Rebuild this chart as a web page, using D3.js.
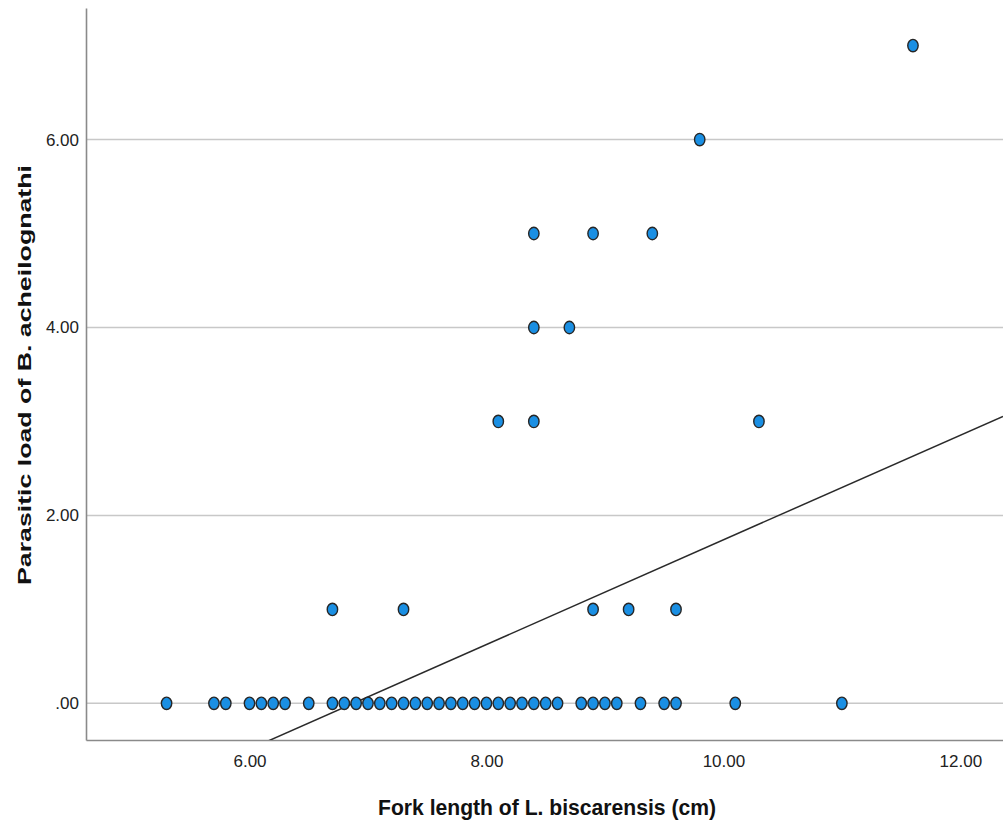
<!DOCTYPE html>
<html>
<head>
<meta charset="utf-8">
<script src="https://cdn.jsdelivr.net/npm/d3@7"></script>
<style>
  body { margin: 0; background: #fff; }
  svg { display: block; font-family: "Liberation Sans", Arial, sans-serif; }
</style>
</head>
<body>
<div class="canva"></div>
<script>
// fork length (cm) and parasite count for each fish
const forkLength = [
  5.3, 5.7, 5.8, 6.0, 6.1, 6.2, 6.3, 6.5, 6.7, 6.8, 6.9, 7.0, 7.1, 7.2, 7.3, 7.4,
  7.5, 7.6, 7.7, 7.8, 7.9, 8.0, 8.1, 8.2, 8.3, 8.4, 8.5, 8.6, 8.8, 8.9, 9.0, 9.1,
  9.3, 9.5, 9.6, 10.1, 11.0,
  6.7, 7.3, 8.9, 9.2, 9.6,
  8.1, 8.4, 10.3,
  8.4, 8.7,
  8.4, 8.9, 9.4,
  9.8,
  11.6
];
const parasiticLoad = [
  0, 0, 0, 0, 0, 0, 0, 0, 0, 0, 0, 0, 0, 0, 0, 0,
  0, 0, 0, 0, 0, 0, 0, 0, 0, 0, 0, 0, 0, 0, 0, 0,
  0, 0, 0, 0, 0,
  1, 1, 1, 1, 1,
  3, 3, 3,
  4, 4,
  5, 5, 5,
  6,
  7
];
const xTicks = [6, 8, 10, 12];
const yTicks = [0, 2, 4, 6];
// fitted line y = a + b*x
const fitIntercept = -3.83;
const fitSlope = 0.557;

const width = 1003, height = 827;
const margin = {top: 8, right: 0, bottom: 87, left: 86};

const svg = d3.select('.canva').append('svg')
    .attr('width', width)
    .attr('height', height);

const x = d3.scaleLinear().domain([4.62, 12.36]).range([margin.left, width - margin.right]);
const y = d3.scaleLinear().domain([-0.39, 7.4]).range([height - margin.bottom, margin.top]);

const fmt = v => v === 0 ? '.00' : d3.format('.2f')(v);

// grid lines
svg.append('g')
    .selectAll('line')
    .data(yTicks)
    .join('line')
    .attr('x1', margin.left)
    .attr('x2', width - margin.right)
    .attr('y1', d => y(d))
    .attr('y2', d => y(d))
    .attr('stroke', '#c8c8c8')
    .attr('stroke-width', 1.5);

// axes
const xAxis = svg.append('g')
    .attr('transform', `translate(0,${height - margin.bottom})`)
    .call(d3.axisBottom(x).tickValues(xTicks).tickFormat(fmt).tickSize(0).tickPadding(15));
const yAxis = svg.append('g')
    .attr('transform', `translate(${margin.left},0)`)
    .call(d3.axisLeft(y).tickValues(yTicks).tickFormat(fmt).tickSize(0).tickPadding(7));

[xAxis, yAxis].forEach(g => {
  g.select('.domain').attr('stroke', '#8a8a8a').attr('stroke-width', 1.6);
  g.selectAll('text')
    .attr('font-family', '"Liberation Sans Narrow", "Liberation Sans", Arial, sans-serif')
    .attr('font-size', 17)
    .attr('fill', '#222');
});

// regression line
svg.append('clipPath').attr('id', 'plot')
    .append('rect')
    .attr('x', margin.left)
    .attr('y', margin.top)
    .attr('width', width - margin.left - margin.right)
    .attr('height', height - margin.bottom - margin.top);

const lx = x.domain();
svg.append('line')
    .attr('clip-path', 'url(#plot)')
    .attr('x1', x(lx[0]))
    .attr('y1', y(fitIntercept + fitSlope * lx[0]))
    .attr('x2', x(lx[1]))
    .attr('y2', y(fitIntercept + fitSlope * lx[1]))
    .attr('stroke', '#2a2a2a')
    .attr('stroke-width', 1.5);

// points
svg.append('g')
    .selectAll('ellipse')
    .data(forkLength.map((d, i) => [d, parasiticLoad[i]]))
    .join('ellipse')
    .attr('cx', d => x(d[0]))
    .attr('cy', d => y(d[1]))
    .attr('rx', 5.2)
    .attr('ry', 6.2)
    .attr('fill', '#1a8fe3')
    .attr('stroke', '#262626')
    .attr('stroke-width', 1.4);

// axis titles
svg.append('text')
    .text('Fork length of L. biscarensis (cm)')
    .attr('text-anchor', 'middle')
    .attr('x', 547)
    .attr('y', 815)
    .attr('font-size', 22)
    .attr('font-weight', 'bold')
    .attr('fill', '#111')
    .attr('textLength', 338)
    .attr('lengthAdjust', 'spacingAndGlyphs');

svg.append('text')
    .text('Parasitic load of B. acheilognathi')
    .attr('text-anchor', 'middle')
    .attr('transform', 'translate(31,375) rotate(-90)')
    .attr('font-size', 19)
    .attr('font-weight', 'bold')
    .attr('fill', '#111')
    .attr('textLength', 420)
    .attr('lengthAdjust', 'spacingAndGlyphs');
</script>
</body>
</html>
